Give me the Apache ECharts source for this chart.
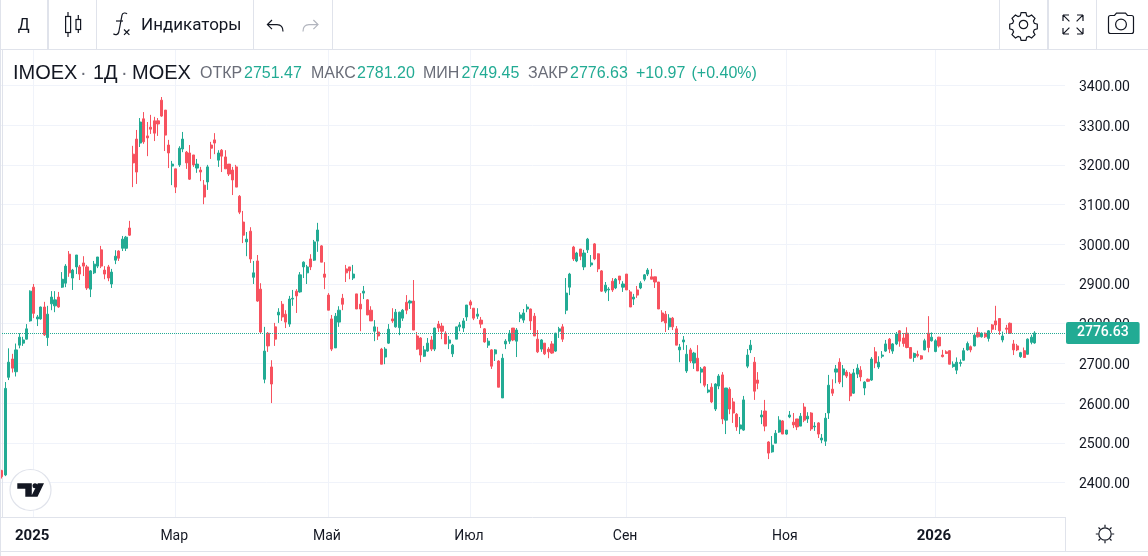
<!DOCTYPE html>
<html><head><meta charset="utf-8">
<script src="https://cdn.jsdelivr.net/npm/echarts@6/dist/echarts.min.js"></script>
<style>
html,body{margin:0;padding:0;background:#fff;overflow:hidden}
#c{position:absolute;left:0;top:0;width:1148px;height:556px}
#ov{position:absolute;left:0;top:0;pointer-events:none}
</style></head><body>
<div id="c"></div>
<svg id="ov" width="1148" height="556" viewBox="0 0 1148 556" fill="none" stroke="#131722" stroke-width="1">
  <!-- candle icon -->
  <g stroke-width="1.2"><rect x="65.6" y="16.5" width="5" height="16"/><path d="M68 12v4.5M68 32.5V37"/><rect x="76" y="19.5" width="4.6" height="10"/><path d="M78.3 15v4.5M78.3 29.5V33"/></g>
  <!-- fx icon -->
  <g stroke-width="1.2"><path d="M127 14c-1.2-1.5-4.4-1.5-5 1.2L118.8 32c-.6 2.8-3.6 3.4-5.4 1.8"/><path d="M116 21h7"/><path d="M124 29.5l5.4 5.4M129.4 29.5l-5.4 5.4"/></g>
  <!-- undo / redo -->
  <path d="M272 20l-4.6 4.6 4.6 4.6M268 24.6h9c3.6 0 6 2.2 6 7" stroke-width="1.2"/>
  <path d="M313.4 20l4.6 4.6-4.6 4.6M318 24.6h-9c-3.6 0-6 2.2-6 7" stroke="#b2b5be" stroke-width="1.2"/>
  <!-- gear -->
  <g transform="translate(1023.5 24.5)" stroke-width="1.2"><circle r="4.2"/><path d="M-2.4-11.8h4.8l.8 3 2.2.9 2.7-1.6 3.4 3.4-1.6 2.7.9 2.2 3 .8v4.8l-3 .8-.9 2.2 1.6 2.7-3.4 3.4-2.7-1.6-2.2.9-.8 3h-4.8l-.8-3-2.2-.9-2.7 1.6-3.4-3.4 1.6-2.7-.9-2.2-3-.8v-4.8l3-.8.9-2.2-1.6-2.7 3.4-3.4 2.7 1.6 2.2-.9z"/></g>
  <!-- fullscreen -->
  <g stroke-width="1.2"><path d="M1063 15h6M1063 15v6M1063.4 15.4l6 6M1083 15h-6M1083 15v6M1082.6 15.4l-6 6M1063 34h6M1063 34v-6M1063.4 33.6l6-6M1083 34h-6M1083 34v-6M1082.6 33.6l-6-6"/></g>
  <!-- camera -->
  <g stroke-width="1.2"><path d="M1108.5 17.5a2 2 0 0 1 2-2h4l2-2.4h9l2 2.4h4a2 2 0 0 1 2 2v14a2 2 0 0 1-2 2h-21a2 2 0 0 1-2-2z"/><circle cx="1121" cy="24.5" r="5.4"/></g>
  <!-- logo -->
  <circle cx="30.5" cy="490" r="20.5" fill="#fff" stroke="#e0e3eb" stroke-width="1.2"/>
  <path d="M17.3 483.3h14.5v13.4h-6.5v-8h-8zM37.8 483.3H44l-6.5 13.4H31z" fill="#131722" stroke="none"/>
  <circle cx="35" cy="485.8" r="2.5" fill="#131722" stroke="none"/>
  <!-- sun -->
  <g transform="translate(1105 534)" stroke-width="1.2"><circle r="6.2"/><path d="M0-9.2v2.4M0 6.8v2.4M-9.2 0h2.4M6.8 0h2.4M-6.5-6.5l1.7 1.7M4.8 4.8l1.7 1.7M-6.5 6.5l1.7-1.7M4.8-4.8l1.7-1.7"/></g>
</svg>
<script>
const opens=[2430,2419,2665,2711,2679,2746,2751,2761,2807,2892,
2812,2812,2842,2765,2850,2845,2867,2892,2902,2975,
2915,2943,2943,2953,2943,2887,2928,2945,2986,2935,
2943,2900,2960,2983,2990,2990,3041,3227,3265,3255,
3316,3273,3295,3311,3311,3363,3338,3250,3197,3190,
3200,3240,3232,3230,3225,3192,3187,3149,3157,3250,
3263,3212,3237,3220,3202,3187,3195,3121,3056,3006,
3033,2917,2958,2887,2660,2776,2691,2792,2822,2849,
2824,2799,2862,2882,2880,2943,2928,2963,2960,3008,
2996,2925,2872,2812,2739,2804,2864,2938,2943,2915,
2875,2849,2877,2860,2834,2781,2779,2736,2716,2751,
2812,2792,2790,2814,2854,2852,2857,2769,2764,2718,
2731,2759,2736,2799,2794,2776,2751,2724,2761,2792,
2789,2817,2855,2839,2819,2809,2787,2746,2734,2724,
2706,2613,2749,2756,2789,2756,2814,2809,2837,2837,
2819,2761,2736,2751,2736,2749,2731,2781,2792,2834,
2892,2993,2958,2988,2943,2986,2948,3001,2976,2933,
2882,2885,2907,2890,2920,2892,2925,2880,2862,2885,
2890,2912,2925,2918,2918,2905,2827,2824,2792,2814,
2787,2734,2754,2681,2734,2701,2713,2678,2691,2628,
2640,2585,2643,2671,2557,2635,2603,2572,2535,2532,
2693,2734,2703,2658,2565,2580,2502,2477,2499,2527,
2555,2522,2565,2552,2560,2542,2590,2560,2575,2540,
2550,2507,2504,2575,2635,2678,2703,2671,2678,2673,
2625,2673,2683,2638,2660,2658,2729,2691,2718,2731,
2761,2731,2749,2782,2764,2776,2740,2715,2723,2719,
2734,2776,2757,2730,2766,2721,2729,2732,2692,2683,
2700,2708,2734,2742,2744,2778,2767,2776,2763,2797,
2807,2813,2759,2789,2801,2749,2744,2717,2732,2723,
2753,2751.47];
const closes=[2415,2637,2703,2688,2734,2766,2759,2787,2882,2826,
2817,2842,2772,2824,2867,2860,2842,2912,2945,2928,
2935,2973,2925,2945,2890,2933,2950,2968,2945,2925,
2915,2930,2970,2965,3013,3018,3023,3205,3182,3308,
3258,3268,3290,3280,3303,3323,3275,3230,3202,3144,
3242,3265,3205,3164,3200,3202,3182,3119,3195,3242,
3255,3230,3222,3190,3177,3162,3144,3081,3023,3013,
2963,2928,2857,2779,2731,2744,2648,2761,2829,2817,
2804,2862,2864,2870,2923,2955,2943,2943,3006,3036,
2955,2917,2834,2736,2819,2834,2849,2928,2933,2925,
2837,2837,2882,2822,2807,2792,2769,2698,2736,2786,
2807,2829,2829,2834,2834,2857,2784,2736,2721,2734,
2751,2736,2789,2789,2781,2749,2759,2746,2792,2797,
2807,2847,2847,2814,2824,2799,2754,2756,2693,2734,
2640,2713,2756,2776,2759,2784,2822,2827,2842,2807,
2769,2729,2759,2724,2729,2726,2776,2787,2761,2877,
2925,2963,2978,2970,2978,3013,2953,2963,2938,2882,
2897,2887,2885,2912,2910,2900,2885,2842,2867,2872,
2902,2923,2935,2912,2905,2837,2807,2802,2814,2792,
2746,2741,2759,2723,2706,2726,2681,2686,2645,2633,
2603,2648,2668,2560,2638,2585,2575,2540,2545,2608,
2721,2746,2630,2650,2570,2542,2474,2494,2524,2557,
2522,2532,2570,2545,2540,2567,2557,2567,2535,2542,
2522,2512,2562,2645,2625,2686,2653,2686,2668,2618,
2676,2688,2666,2653,2655,2711,2701,2703,2721,2749,
2736,2749,2774,2756,2750,2740,2713,2725,2719,2711,
2757,2740,2766,2757,2744,2717,2725,2698,2698,2703,
2702,2732,2750,2734,2771,2767,2776,2767,2782,2786,
2797,2782,2769,2786,2776,2734,2734,2727,2715,2761,
2766,2776.63];
const lows=[2410,2416,2658,2677,2667,2738,2744,2760,2805,2814,
2794,2810,2769,2744,2834,2829,2840,2890,2892,2918,
2885,2925,2910,2920,2885,2867,2925,2940,2940,2912,
2907,2890,2950,2958,2983,2983,3021,3144,3152,3245,
3253,3222,3278,3260,3273,3321,3235,3192,3149,3129,
3195,3232,3190,3162,3195,3180,3159,3101,3137,3215,
3227,3195,3182,3190,3172,3124,3144,3076,3003,2970,
2953,2900,2855,2775,2650,2729,2600,2744,2802,2807,
2789,2792,2845,2827,2878,2915,2900,2935,2958,2981,
2955,2887,2834,2731,2739,2792,2834,2905,2912,2910,
2837,2781,2862,2822,2807,2756,2759,2698,2698,2749,
2802,2790,2771,2807,2824,2837,2784,2734,2703,2716,
2729,2731,2731,2779,2761,2749,2736,2716,2761,2781,
2779,2807,2837,2809,2812,2789,2752,2739,2686,2706,
2640,2613,2736,2749,2756,2716,2804,2802,2829,2784,
2769,2726,2729,2721,2713,2724,2729,2764,2754,2824,
2872,2958,2955,2960,2935,2978,2943,2960,2930,2880,
2877,2857,2880,2887,2900,2880,2885,2842,2847,2865,
2887,2907,2920,2912,2890,2837,2804,2779,2784,2784,
2746,2703,2734,2676,2701,2686,2681,2650,2640,2625,
2600,2580,2635,2547,2522,2572,2550,2530,2522,2530,
2688,2726,2608,2635,2547,2529,2459,2475,2499,2525,
2522,2520,2562,2537,2532,2542,2552,2550,2530,2530,
2512,2499,2492,2560,2618,2650,2648,2640,2663,2605,
2623,2663,2655,2620,2653,2656,2688,2686,2713,2729,
2726,2724,2746,2742,2742,2738,2712,2704,2715,2709,
2733,2728,2755,2728,2740,2715,2724,2698,2689,2673,
2692,2707,2732,2728,2743,2765,2765,2764,2755,2777,
2784,2772,2753,2776,2774,2721,2731,2714,2714,2722,
2748,2749.45];
const highs=[2432,2653,2738,2724,2750,2776,2767,2799,2884,2900,
2822,2843,2855,2845,2882,2882,2880,2930,2950,2983,
2938,2973,2948,2970,2948,2935,2958,2968,2996,2945,
2948,2938,2985,2985,3021,3021,3059,3248,3288,3318,
3333,3308,3326,3321,3318,3371,3338,3263,3210,3190,
3247,3283,3235,3250,3225,3215,3195,3162,3200,3258,
3280,3237,3240,3237,3202,3195,3200,3124,3084,3031,
3043,2958,2973,2902,2792,2779,2708,2802,2839,2857,
2834,2870,2885,2887,2930,2957,2948,2975,3011,3054,
2998,2955,2877,2822,2827,2844,2875,2948,2943,2948,
2875,2877,2895,2862,2844,2809,2792,2739,2741,2799,
2839,2837,2830,2837,2872,2860,2910,2779,2766,2744,
2764,2769,2790,2807,2802,2781,2769,2749,2792,2804,
2814,2847,2860,2839,2839,2817,2789,2764,2736,2736,
2708,2724,2761,2784,2789,2789,2829,2837,2849,2838,
2827,2784,2761,2751,2741,2756,2777,2792,2799,2915,
2928,2996,2981,2988,2986,3016,2973,3003,2977,2935,
2905,2892,2915,2915,2920,2907,2925,2885,2875,2895,
2907,2925,2940,2938,2918,2905,2834,2832,2824,2817,
2794,2749,2769,2746,2739,2729,2746,2691,2693,2648,
2650,2650,2673,2678,2638,2640,2613,2575,2565,2618,
2736,2759,2716,2678,2582,2608,2504,2517,2532,2567,
2557,2532,2580,2575,2560,2575,2600,2577,2577,2552,
2552,2522,2575,2671,2660,2696,2713,2696,2683,2678,
2686,2698,2693,2655,2662,2716,2741,2718,2731,2759,
2764,2751,2779,2784,2776,2791,2741,2727,2732,2721,
2762,2819,2778,2761,2767,2734,2733,2733,2705,2715,
2710,2739,2755,2745,2777,2791,2778,2778,2784,2799,
2845,2813,2780,2797,2803,2759,2749,2729,2740,2763,
2772,2781.20];
const monthBars=[9,49,92,132,176,221,263];
const monthLabels=['2025','Мар','Май','Июл','Сен','Ноя','2026'];
const priceTicks=[2400,2500,2600,2700,2800,2900,3000,3100,3200,3300,3400];
const lastPrice=2776.63;

const GREEN='#22ab94',RED='#f7525f',LINE='#e0e3eb',GRID='#f0f3fa',INK='#131722',GREY='#6a6d78';
const FONT='Roboto, sans-serif',HEAD='"Liberation Sans", Arial, sans-serif';
const candles=opens.map((o,i)=>[i,o,closes[i],lows[i],highs[i]]);
const label=(x,t,col,size,w)=>({type:'text',left:x,top:76-size*0.62,z:50,silent:true,style:{text:t,fill:col,font:(w||400)+' '+size+'px '+HEAD}});
const vline=(x,y1,y2,w)=>({type:'line',z:40,silent:true,shape:{x1:x,y1:y1,x2:x,y2:y2},style:{stroke:LINE,lineWidth:w||1}});
const hline=(y,x1,x2)=>({type:'line',z:40,silent:true,shape:{x1:x1,y1:y,x2:x2,y2:y},style:{stroke:LINE,lineWidth:1}});

const chart=echarts.init(document.getElementById('c'),null,{renderer:'canvas',width:1148,height:556});
chart.setOption({
  animation:false,
  backgroundColor:'#fff',
  grid:{left:-2,right:83,top:50,bottom:39,containLabel:false},
  xAxis:{type:'value',min:-0.5,max:299.5,
    axisLine:{show:true,lineStyle:{color:LINE}},
    axisTick:{show:false,customValues:monthBars},
    splitLine:{show:true,lineStyle:{color:GRID,width:1}},
    axisLabel:{customValues:monthBars,margin:12,padding:[0,3,0,0],fontFamily:FONT,fontSize:14,color:INK,
      formatter:v=>{const s=monthLabels[monthBars.indexOf(v)]||'';return /^\d/.test(s)?'{y|'+s+'}':s;},
      rich:{y:{fontFamily:FONT,fontSize:15,fontWeight:700,color:INK}}}},
  yAxis:{type:'value',position:'right',min:2313.06,max:3489.4,scale:true,
    axisLine:{show:true,lineStyle:{color:LINE}},
    axisTick:{show:false,customValues:priceTicks},
    splitLine:{show:true,lineStyle:{color:GRID,width:1}},
    axisLabel:{customValues:priceTicks,margin:14,fontFamily:FONT,fontSize:14,color:INK,
      formatter:v=>'{t|'+v.toFixed(2)+'}',
      rich:{t:{fontFamily:FONT,fontSize:14,color:INK,padding:[4,0,0,0]}}}},
  series:[{type:'candlestick',barWidth:2.6,clip:true,
    encode:{x:0,y:[1,2,3,4]},data:candles,
    itemStyle:{color:GREEN,color0:RED,borderColor:GREEN,borderColor0:RED,borderWidth:1},
    markLine:{silent:true,symbol:'none',animation:false,z:20,
      lineStyle:{type:'dotted',color:GREEN,width:1},
      label:{show:true,position:'end',distance:1,formatter:lastPrice.toFixed(2),color:'#fff',backgroundColor:GREEN,
        fontFamily:FONT,fontSize:14,fontWeight:500,padding:[7,11,1,11],borderRadius:2},
      data:[{yAxis:lastPrice}]}}],
  graphic:[
    hline(49.5,0,1148),
    hline(551.5,0,1148),
    vline(48,0,49,2),vline(96.5,0,49),vline(253.5,0,49),vline(332.5,0,49),
    vline(999.5,0,49),vline(1048,0,49,2),vline(1096.5,0,49),
    vline(1065.5,517,551),
    vline(0.5,0,556),
    {type:'text',left:18,top:17,z:50,silent:true,style:{text:'Д',fill:INK,font:'400 17px '+HEAD}},
    {type:'text',left:141,top:17,z:50,silent:true,style:{text:'Индикаторы',fill:INK,font:'400 17px '+FONT}},
    label(13,'IMOEX',INK,20),label(80,'·',GREY,20),label(93,'1Д',INK,20),label(121,'·',GREY,20),label(132,'MOEX',INK,20),
    label(200,'ОТКР',GREY,16),label(244,'2751.47',GREEN,16),
    label(311,'МАКС',GREY,16),label(357,'2781.20',GREEN,16),
    label(423,'МИН',GREY,16),label(461.5,'2749.45',GREEN,16),
    label(528,'ЗАКР',GREY,16),label(570,'2776.63',GREEN,16),
    label(636,'+10.97',GREEN,16),label(691.5,'(+0.40%)',GREEN,16)
  ]
});
</script>
</body></html>
